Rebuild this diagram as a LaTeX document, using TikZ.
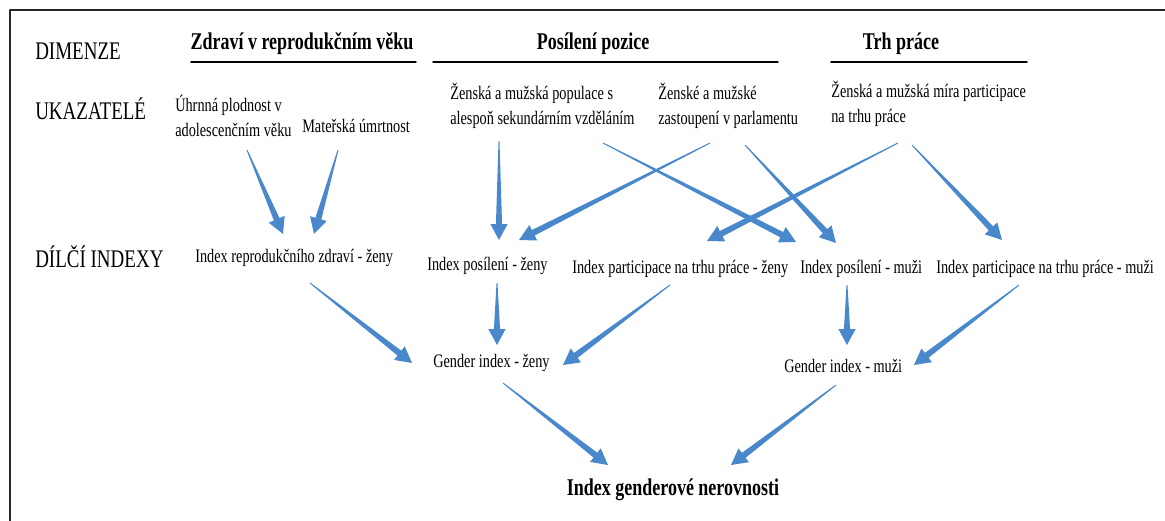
\documentclass[tikz,border=0pt]{standalone}
\usepackage{fontspec}
\setmainfont{Liberation Serif}[FakeStretch=0.75]
\usetikzlibrary{calc}
\definecolor{flowblue}{RGB}{74,136,204}
% tapered arrow from #1 to #2
\newcommand\flow[2]{%
  \path ($(#2)!12pt!(#1)$) coordinate (fh);
  \fill[flowblue] ($(#1)!0.35pt!90:(#2)$) -- ($(fh)!2.3pt!90:(#2)$) -- ($(fh)!6.5pt!90:(#2)$) -- (#2)
    -- ($(fh)!6.5pt!-90:(#2)$) -- ($(fh)!2.3pt!-90:(#2)$) -- ($(#1)!0.35pt!-90:(#2)$) -- cycle;}
\tikzset{
  txt/.style={inner sep=0pt, anchor=west, align=left, font=\fontsize{14.3}{19}\selectfont},
  rowlab/.style={inner sep=0pt, anchor=west, font=\fontsize{19}{22}\selectfont},
  dimhead/.style={inner sep=0pt, font=\fontsize{18}{21}\selectfont\bfseries},
}
\begin{document}
\begin{tikzpicture}[x=0.75pt, y=-0.75pt, line join=round, line cap=round]
\useasboundingbox (0,0) rectangle (1165,521);
\draw[line width=1.1pt, black!85] (10,540) |- (1180,10);
% rows
\node[rowlab] (dim) at (35,51) {DIMENZE};
\node[rowlab] (uka) at (35,109) {UKAZATELÉ};
\node[rowlab] (dil) at (35,257) {DÍLČÍ INDEXY};
% dimenze
\node[dimhead] (zdr) at (302,44) {Zdraví v reprodukčním věku};
\node[dimhead] (poz) at (593,44) {Posílení pozice};
\node[dimhead] (trh) at (901,44) {Trh práce};
\draw[line width=1.1pt] (191,62) -- (416,62) (433,62) -- (778,62) (831,62) -- (1027,62);
% ukazatele
\node[txt] (uhr) at (175,116) {Úhrnná plodnost v\\adolescenčním věku};
\node[txt] (mat) at (302,126) {Mateřská úmrtnost};
\node[txt] (vzd) at (450,106) {Ženská a mužská populace s\\alespoň sekundárním vzděláním};
\node[txt] (par) at (658,106) {Ženské a mužské\\zastoupení v parlamentu};
\node[txt] (mir) at (831,104) {Ženská a mužská míra participace\\na trhu práce};
% dilci indexy
\node[txt] (rep) at (195,258) {Index reprodukčního zdraví - ženy};
\node[txt] (posz) at (427,266) {Index posílení - ženy};
\node[txt] (ptz) at (572,269) {Index participace na trhu práce - ženy};
\node[txt] (posm) at (800,269) {Index posílení - muži};
\node[txt] (ptm) at (936,269) {Index participace na trhu práce - muži};
\node[txt] (genz) at (433,363) {Gender index - ženy};
\node[txt] (genm) at (784,366) {Gender index - muži};
\node[dimhead] (gii) at (673,490) {Index genderové nerovnosti};
% konce sipek
\path (247,150) coordinate (a1) (283,234) coordinate (b1)
  (338,150) coordinate (a2) (314,234) coordinate (b2)
  (499,141) coordinate (a3) (499,240) coordinate (b3)
  (710,143) coordinate (a4) (519,240) coordinate (b4)
  (603,143) coordinate (a5) (796,242) coordinate (b5)
  (745,145) coordinate (a6) (836,243) coordinate (b6)
  (898,143) coordinate (a7) (707,241) coordinate (b7)
  (912,145) coordinate (a8) (1002,240) coordinate (b8)
  (310,283) coordinate (a9) (412,363) coordinate (b9)
  (497,283) coordinate (a10) (497,345) coordinate (b10)
  (670,285) coordinate (a11) (563,365) coordinate (b11)
  (847,285) coordinate (a12) (847,345) coordinate (b12)
  (1019,285) coordinate (a13) (914,365) coordinate (b13)
  (503,383) coordinate (a14) (608,465) coordinate (b14)
  (836,385) coordinate (a15) (731,465) coordinate (b15);
\foreach \i in {1,...,15} \flow{a\i}{b\i};
\end{tikzpicture}
\end{document}
